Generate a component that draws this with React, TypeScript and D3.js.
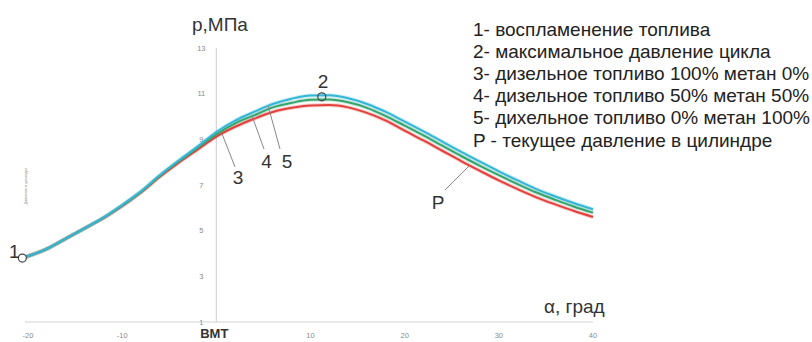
import React from "react";
import * as d3 from "d3";

// crank angle, degrees (ВМТ = 0)
const angles = [-20.6, -18, -16, -14, -12, -10, -8, -6, -4, -2, 0, 2, 4, 6, 8, 10, 12, 14, 16, 18, 20, 22, 24, 26, 28, 30, 32, 34, 36, 38, 40];

// cylinder pressure, MPa
const diesel100 = [3.8, 4.2, 4.65, 5.1, 5.55, 6.08, 6.68, 7.36, 7.98, 8.55, 9.12, 9.55, 9.9, 10.2, 10.38, 10.48, 10.5, 10.4, 10.16, 9.82, 9.38, 8.95, 8.5, 8.05, 7.62, 7.2, 6.82, 6.46, 6.15, 5.86, 5.6];
const diesel50 = [3.8, 4.2, 4.65, 5.1, 5.56, 6.1, 6.7, 7.4, 8.03, 8.62, 9.22, 9.7, 10.05, 10.4, 10.6, 10.73, 10.74, 10.62, 10.38, 10.02, 9.6, 9.17, 8.72, 8.27, 7.84, 7.43, 7.04, 6.67, 6.35, 6.05, 5.79];
const methane100 = [3.8, 4.2, 4.65, 5.1, 5.57, 6.12, 6.72, 7.43, 8.07, 8.68, 9.32, 9.82, 10.2, 10.55, 10.78, 10.92, 10.93, 10.8, 10.55, 10.2, 9.78, 9.35, 8.9, 8.45, 8.02, 7.6, 7.2, 6.82, 6.5, 6.2, 5.94];

const xTicks = [-20, -10, 0, 10, 20, 30, 40];
const yTicks = [1, 3, 5, 7, 9, 11, 13];

const legendLines = [
  "1- воспламенение топлива",
  "2- максимальное давление цикла",
  "3- дизельное топливо 100% метан 0%",
  "4- дизельное топливо 50% метан 50%",
  "5- дихельное топливо 0% метан 100%",
  "P - текущее давление в цилиндре",
];

const series = [
  { name: "3", values: diesel100, color: "#e2403c" },
  { name: "4", values: diesel50, color: "#35a56f" },
  { name: "5", values: methane100, color: "#34b6d6" },
];

const W = 812;
const H = 342;

export default function App() {
  const x = d3.scaleLinear().domain([-20, 40]).range([28, 593]);
  const y = d3.scaleLinear().domain([1, 13]).range([322, 48]);
  const line = d3
    .line<[number, number]>()
    .x((d) => x(d[0]))
    .y((d) => y(d[1]))
    .curve(d3.curveMonotoneX);

  const font = "'Liberation Sans', Arial, sans-serif";
  const tickColor = "#8a8a8a";
  const labelSize = 19;

  // key points: ignition (start) and the peak of the methane curve
  const ignition: [number, number] = [angles[0], methane100[0]];
  const peakIdx = d3.maxIndex(methane100);
  const peak: [number, number] = [11.2, methane100[peakIdx] - 0.07];

  const at = (vals: number[], a: number) => {
    const i = d3.bisectLeft(angles, a);
    const t = (a - angles[i - 1]) / (angles[i] - angles[i - 1]);
    return vals[i - 1] + t * (vals[i] - vals[i - 1]);
  };

  // curve labels with leader lines
  const leaders = [
    { a: 0.6, v: at(diesel100, 0.6), tx: 235, ty: 167, label: "3", lx: 238, ly: 177 },
    { a: 3.8, v: at(diesel50, 3.8), tx: 264, ty: 149, label: "4", lx: 266.5, ly: 161 },
    { a: 5.5, v: at(methane100, 5.5), tx: 280, ty: 149, label: "5", lx: 287, ly: 161 },
    { a: 26.9, v: at(diesel100, 26.9), tx: 445, ty: 190, label: "P", lx: 438, ly: 202 },
  ];

  return (
    <svg
      width={W}
      height={H}
      style={{ position: "absolute", left: 0, top: 0, background: "#fff" }}
      fontFamily={font}
    >
      <rect width={W} height={H} fill="#fff" />

      {/* axes */}
      <line x1={25} x2={593} y1={y(1)} y2={y(1)} stroke="#d4d4d4" strokeWidth={1.2} />
      <line x1={x(0)} x2={x(0)} y1={y(13)} y2={y(1)} stroke="#d4d4d4" strokeWidth={1.2} />

      {yTicks.map((t) => (
        <text key={t} x={x(0) - 15} y={y(t)} dy="0.35em" fontSize={7.5} fill={tickColor} textAnchor="middle">
          {t}
        </text>
      ))}
      {xTicks.map((t) =>
        t === 0 ? (
          <text key={t} x={x(t) - 2} y={333.5} dy="0.35em" fontSize={13} fontWeight="bold" fill="#333" textAnchor="middle">
            ВМТ
          </text>
        ) : (
          <text key={t} x={x(t)} y={335} dy="0.35em" fontSize={7.5} fill={tickColor} textAnchor="middle">
            {t}
          </text>
        )
      )}

      <text x={192} y={31} fontSize={labelSize} fill="#333">p,МПа</text>
      <text x={544} y={313} fontSize={labelSize} fill="#333">α, град</text>

      <text
        transform={`translate(27,186) rotate(-90)`}
        fontSize={3.6}
        fill="#777"
        textAnchor="middle"
      >
        Давление в цилиндре
      </text>

      {/* pressure curves */}
      {series.map((s) => (
        <path
          key={s.name + "halo"}
          d={line(angles.map((a, i) => [a, s.values[i]]) as [number, number][]) || ""}
          fill="none"
          stroke={s.color}
          strokeOpacity={0.25}
          strokeWidth={4}
        />
      ))}
      {series.map((s) => (
        <path
          key={s.name}
          d={line(angles.map((a, i) => [a, s.values[i]]) as [number, number][]) || ""}
          fill="none"
          stroke={s.color}
          strokeWidth={2}
        />
      ))}

      {/* leader lines */}
      {leaders.map((l) => (
        <g key={l.label}>
          <line x1={x(l.a)} y1={y(l.v)} x2={l.tx} y2={l.ty} stroke="#888" strokeWidth={1} />
          <text x={l.lx} y={l.ly} dy="0.35em" fontSize={labelSize} fill="#333" textAnchor="middle">
            {l.label}
          </text>
        </g>
      ))}

      {/* markers */}
      <circle cx={x(ignition[0])} cy={y(ignition[1])} r={4} fill="#fff" stroke="#444" strokeWidth={1.2} />
      <text x={x(ignition[0]) - 8} y={y(ignition[1]) - 7} dy="0.35em" fontSize={labelSize} fill="#333" textAnchor="middle">1</text>
      <circle cx={x(peak[0])} cy={y(peak[1])} r={4} fill="none" stroke="#444" strokeWidth={1.2} />
      <text x={323} y={81.5} dy="0.35em" fontSize={labelSize} fill="#333" textAnchor="middle">2</text>

      {/* legend */}
      {legendLines.map((t, i) => (
        <text key={i} x={473} y={29.4 + i * 22.1} dy="0.35em" fontSize={labelSize} fill="#222">
          {t}
        </text>
      ))}
    </svg>
  );
}
